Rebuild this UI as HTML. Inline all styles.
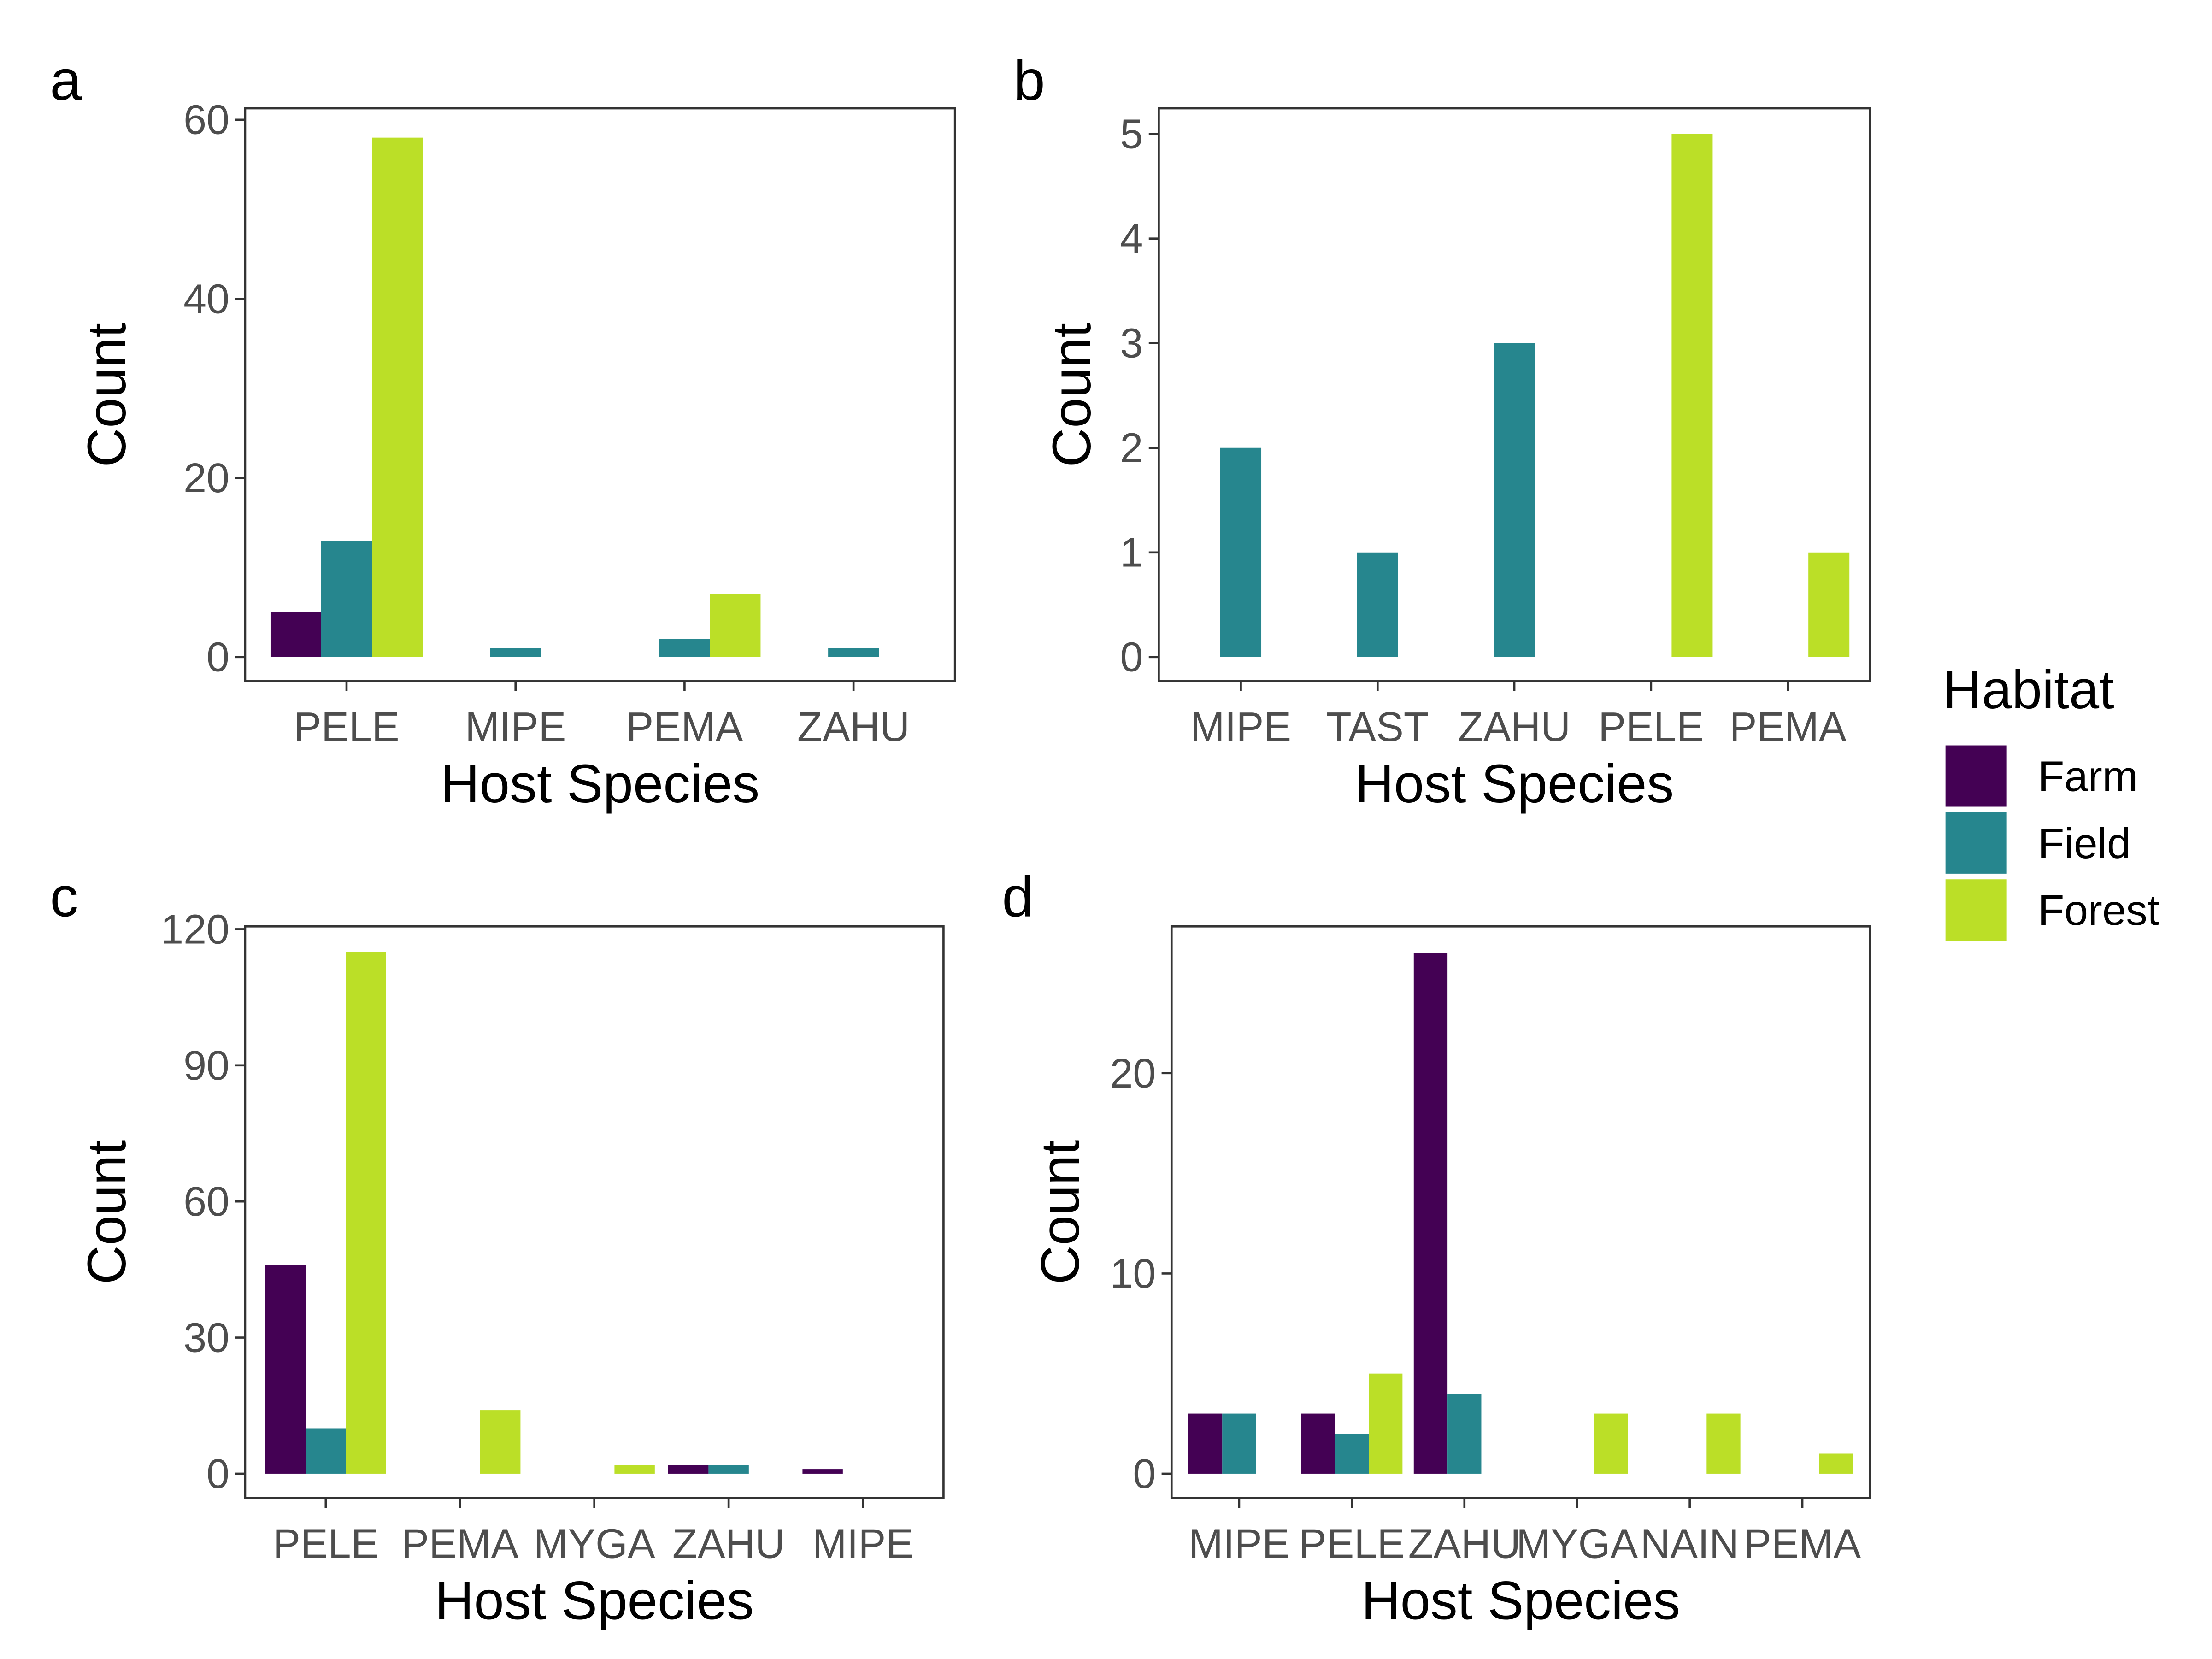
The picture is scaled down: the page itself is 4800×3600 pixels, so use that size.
<!DOCTYPE html>
<html><head><meta charset="utf-8"><style>
html,body{margin:0;padding:0;background:#fff;}
svg{display:block;font-family:"Liberation Sans",Arial,sans-serif;}
</style></head><body>
<svg id="fig" xmlns="http://www.w3.org/2000/svg" width="4800" height="3600" viewBox="0 0 1552 1164">
<rect x="0" y="0" width="1552" height="1164" fill="#fff"/>
</svg>
<script>
const habitats = ["Farm","Field","Forest"];
const colors = {Farm:"#440154",Field:"#26868E",Forest:"#BBDF27"};

const catsA = ["PELE","MIPE","PEMA","ZAHU"];
const farmA = [5,null,null,null];
const fieldA = [13,1,2,1];
const forestA = [58,null,7,null];
const ticksA = [0,20,40,60];

const catsB = ["MIPE","TAST","ZAHU","PELE","PEMA"];
const farmB = [null,null,null,null,null];
const fieldB = [2,1,3,null,null];
const forestB = [null,null,null,5,1];
const ticksB = [0,1,2,3,4,5];

const catsC = ["PELE","PEMA","MYGA","ZAHU","MIPE"];
const farmC = [46,null,null,2,1];
const fieldC = [10,null,null,2,null];
const forestC = [115,14,2,null,null];
const ticksC = [0,30,60,90,120];

const catsD = ["MIPE","PELE","ZAHU","MYGA","NAIN","PEMA"];
const farmD = [3,3,26,null,null,null];
const fieldD = [3,2,4,null,null,null];
const forestD = [null,5,null,3,3,1];
const ticksD = [0,10,20];

const NS="http://www.w3.org/2000/svg";
const svg=document.getElementById('fig');
function mk(tag,attrs,parent){const e=document.createElementNS(NS,tag);for(const k in attrs)e.setAttribute(k,attrs[k]);(parent||svg).appendChild(e);return e;}

function panel(letter,box,cats,series,ticks,y0,yTopVal,yTopPix){
  const g=mk('g',{});
  
  
  const yScale=v=>y0-(v/yTopVal)*(y0-yTopPix);
  const n=cats.length;
  const step=(box.x1-box.x0)/(n+0.2);
  const xCenter=i=>box.x0+step*(0.6+i);
  const bw=step*0.3;
  const lt=mk('text',{x:box.lx,y:box.ly,'font-size':40,fill:'#000'},g);lt.textContent=letter;
  
  
  cats.forEach((c,i)=>{
    habitats.forEach((h,k)=>{
      const v=series[k][i];
      if(v==null) return;
      const x=xCenter(i)-1.5*bw+k*bw;
      const r=mk('rect',{x:x,y:yScale(v),width:bw,height:y0-yScale(v),fill:colors[h]},g);
      
      
    });
    mk('line',{x1:xCenter(i),x2:xCenter(i),y1:box.y1,y2:box.y1+7,stroke:'#333','stroke-width':1.5},g);
    const t=mk('text',{x:xCenter(i),y:box.y1+42,'font-size':29,fill:'#4d4d4d','text-anchor':'middle'},g);
    t.textContent=c;
    
    
  });
  ticks.forEach(v=>{
    const y=yScale(v);
    mk('line',{x1:box.x0-7,x2:box.x0,y1:y,y2:y,stroke:'#333','stroke-width':1.5},g);
    const t=mk('text',{x:box.x0-11,y:y+10,'font-size':29,fill:'#4d4d4d','text-anchor':'end'},g);
    t.textContent=v;
    
    
  });
  const fr=mk('rect',{x:box.x0,y:box.y0,width:box.x1-box.x0,height:box.y1-box.y0,fill:'none',stroke:'#333','stroke-width':1.5},g);
  
  
  const xt=mk('text',{x:(box.x0+box.x1)/2,y:box.y1+85,'font-size':38,fill:'#000','text-anchor':'middle'},g);
  xt.textContent='Host Species';
  
  
  const cy=(box.y0+box.y1)/2;
  const yt=mk('text',{x:box.ylab,y:cy,'font-size':38,fill:'#000','text-anchor':'middle',transform:`rotate(-90 ${box.ylab} ${cy})`},g);
  yt.textContent='Count';
  
  
}
panel('a',{x0:172,x1:670,y0:76,y1:478,ylab:88,lx:35,ly:70},catsA,[farmA,fieldA,forestA],ticksA,461,60,84);
panel('b',{x0:813,x1:1312,y0:76,y1:478,ylab:765,lx:711,ly:70},catsB,[farmB,fieldB,forestB],ticksB,461,5,94);
panel('c',{x0:172,x1:662,y0:650,y1:1051,ylab:88,lx:35,ly:643},catsC,[farmC,fieldC,forestC],ticksC,1034,120,652);
panel('d',{x0:822,x1:1312,y0:650,y1:1051,ylab:757,lx:703,ly:643},catsD,[farmD,fieldD,forestD],ticksD,1034,20,753);

const lg=mk('g',{});


const lt=mk('text',{x:1363,y:497,'font-size':38,fill:'#000'},lg);lt.textContent='Habitat';


habitats.forEach((h,i)=>{
  const y=523+i*47;
  const r=mk('rect',{x:1365,y:y,width:43,height:43,fill:colors[h]},lg);
  
  
  const t=mk('text',{x:1430,y:y+32,'font-size':30,fill:'#000'},lg);t.textContent=h;
  
  
});
</script>
</body></html>
